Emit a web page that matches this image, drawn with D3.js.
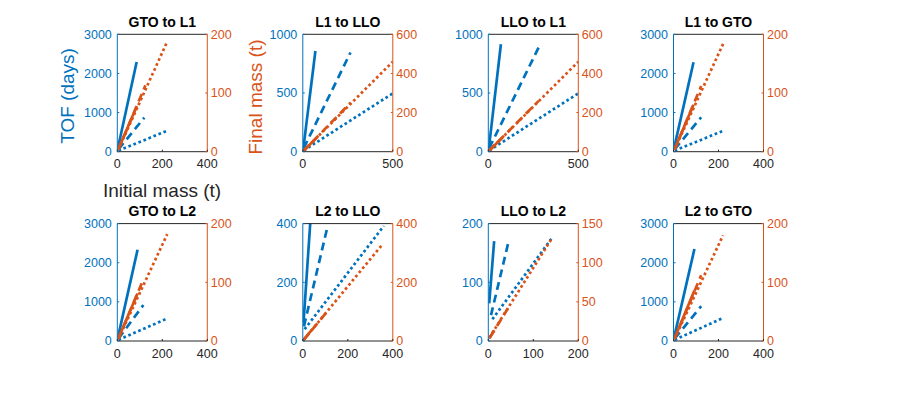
<!DOCTYPE html>
<html>
<head>
<meta charset="utf-8">
<script src="https://cdn.jsdelivr.net/npm/d3@7"></script>
<style>
  body { margin: 0; background: #fff; }
  text { font-family: "Liberation Sans", Arial, sans-serif; }
</style>
</head>
<body>
<div id="chart"></div>
<script>
// panel titles, read row by row
const titles = ["GTO to L1", "L1 to LLO", "LLO to L1", "L1 to GTO",
                "GTO to L2", "L2 to LLO", "LLO to L2", "L2 to GTO"];

const xMax    = [400, 500, 500, 400, 400, 400, 200, 400];
const tofMax  = [3000, 1000, 1000, 3000, 3000, 400, 200, 3000];
const massMax = [200, 600, 600, 200, 200, 400, 150, 200];

const xTicks = [[0, 200, 400], [0, 500], [0, 500], [0, 200, 400],
                [0, 200, 400], [0, 200, 400], [0, 100, 200], [0, 200, 400]];
const tofTicks = [[0, 1000, 2000, 3000], [0, 500, 1000], [0, 500, 1000], [0, 1000, 2000, 3000],
                  [0, 1000, 2000, 3000], [0, 200, 400], [0, 100, 200], [0, 1000, 2000, 3000]];
const massTicks = [[0, 100, 200], [0, 200, 400, 600], [0, 200, 400, 600], [0, 100, 200],
                   [0, 100, 200], [0, 200, 400], [0, 50, 100, 150], [0, 100, 200]];

// TOF (days) vs initial mass (t), [start, end] per panel
const tofSolid = [
  [[3, 100], [86, 2290]], [[2, 15], [70, 858]], [[2, 15], [70, 915]], [[3, 100], [89, 2285]],
  [[3, 100], [90, 2330]], [[3, 60], [40, 480]], [[2, 64], [13, 170]], [[3, 100], [93, 2350]]];
const tofDashed = [
  [[5, 60], [120, 870]], [[5, 30], [265, 845]], [[5, 30], [285, 905]], [[5, 60], [123, 880]],
  [[5, 60], [116, 920]], [[5, 50], [110, 390]], [[6, 44], [44, 166]], [[5, 60], [123, 890]]];
const tofDotted = [
  [[5, 30], [220, 530]], [[5, 10], [500, 497]], [[5, 10], [500, 497]], [[5, 30], [220, 530]],
  [[5, 30], [220, 570]], [[8, 40], [360, 392]], [[9, 37], [140, 174]], [[5, 30], [215, 575]]];

// final mass (t) vs initial mass (t)
const massSolid = [
  [[3, 3], [86, 77]], [[2, 2], [70, 65]], [[2, 2], [70, 65]], [[3, 3], [89, 80]],
  [[3, 3], [90, 81]], [[1, 1], [40, 38]], [[2, 3], [13, 13]], [[3, 3], [93, 86]]];
const massDashed = [
  [[5, 4], [125, 113]], [[5, 5], [265, 250]], [[5, 5], [280, 260]], [[5, 4], [123, 112]],
  [[5, 4], [116, 105]], [[5, 5], [110, 102]], [[4, 5], [44, 42]], [[5, 4], [123, 112]]];
const massDotted = [
  [[5, 4], [220, 186]], [[5, 5], [500, 460]], [[5, 5], [500, 460]], [[5, 4], [222, 185]],
  [[5, 4], [222, 182]], [[5, 5], [355, 330]], [[2, 4], [140, 130]], [[5, 4], [220, 180]]];

const blue = "#0072BD", orange = "#D95319", dark = "#262626";
const width = 900, height = 400;
const axW = 90, axH = 117.4;
const colX = [117.3, 302.8, 488.3, 673.5];
const rowY = [34.3, 223.6];

const svg = d3.select("#chart").append("svg")
    .attr("width", width)
    .attr("height", height);

const dashStyles = { solid: null, dashed: "8,5", dotted: "2.7,2.7" };

titles.forEach(function (title, i) {
    const left = colX[i % 4], top = rowY[Math.floor(i / 4)];
    const x = d3.scaleLinear().domain([0, xMax[i]]).range([0, axW]);
    const yL = d3.scaleLinear().domain([0, tofMax[i]]).range([axH, 0]);
    const yR = d3.scaleLinear().domain([0, massMax[i]]).range([axH, 0]);

    const g = svg.append("g").attr("transform", "translate(" + left + "," + top + ")");

    g.append("clipPath").attr("id", "clip" + i)
        .append("rect").attr("width", axW).attr("height", axH);

    const plot = g.append("g").attr("clip-path", "url(#clip" + i + ")");

    const lineL = d3.line().x(d => x(d[0])).y(d => yL(d[1]));
    const lineR = d3.line().x(d => x(d[0])).y(d => yR(d[1]));

    [[tofSolid, "solid"], [tofDashed, "dashed"], [tofDotted, "dotted"]].forEach(function (s) {
        plot.append("path")
            .attr("d", lineL(s[0][i]))
            .attr("fill", "none")
            .attr("stroke", blue)
            .attr("stroke-width", 2.7)
            .attr("stroke-dasharray", dashStyles[s[1]]);
    });
    [[massSolid, "solid"], [massDashed, "dashed"], [massDotted, "dotted"]].forEach(function (s) {
        plot.append("path")
            .attr("d", lineR(s[0][i]))
            .attr("fill", "none")
            .attr("stroke", orange)
            .attr("stroke-width", 2.7)
            .attr("stroke-dasharray", dashStyles[s[1]]);
    });

    // box
    g.append("line").attr("x1", 0).attr("x2", axW).attr("y1", 0).attr("y2", 0).attr("stroke", dark);
    g.append("line").attr("x1", 0).attr("x2", axW).attr("y1", axH).attr("y2", axH).attr("stroke", dark);
    g.append("line").attr("x1", 0).attr("x2", 0).attr("y1", 0).attr("y2", axH).attr("stroke", blue);
    g.append("line").attr("x1", axW).attr("x2", axW).attr("y1", 0).attr("y2", axH).attr("stroke", orange);

    // x ticks
    xTicks[i].forEach(function (t) {
        g.append("line").attr("x1", x(t)).attr("x2", x(t)).attr("y1", axH).attr("y2", axH - 2).attr("stroke", dark);
        g.append("text").attr("x", x(t)).attr("y", axH + 16.8)
            .attr("text-anchor", "middle").style("font-size", "12.5px").attr("fill", dark).text(t);
    });
    // left ticks
    tofTicks[i].forEach(function (t) {
        g.append("line").attr("x1", 0).attr("x2", 2).attr("y1", yL(t)).attr("y2", yL(t)).attr("stroke", blue);
        g.append("text").attr("x", -5.5).attr("y", yL(t) + 4.5)
            .attr("text-anchor", "end").style("font-size", "12.5px").attr("fill", blue).text(t);
    });
    // right ticks
    massTicks[i].forEach(function (t) {
        g.append("line").attr("x1", axW).attr("x2", axW - 2).attr("y1", yR(t)).attr("y2", yR(t)).attr("stroke", orange);
        g.append("text").attr("x", axW + 3.5).attr("y", yR(t) + 4.5)
            .attr("text-anchor", "start").style("font-size", "12.5px").attr("fill", orange).text(t);
    });

    g.append("text").attr("x", axW / 2).attr("y", -7.5)
        .attr("text-anchor", "middle").style("font-size", "14px").attr("font-weight", "bold")
        .attr("fill", "#000").text(title);
});

// axis labels of the first panel
svg.append("text")
    .attr("transform", "translate(73.5,96) rotate(-90)")
    .attr("text-anchor", "middle").style("font-size", "19px").attr("fill", blue)
    .text("TOF (days)");
svg.append("text")
    .attr("transform", "translate(261.5,97) rotate(-90)")
    .attr("text-anchor", "middle").style("font-size", "19px").attr("fill", orange)
    .text("Final mass (t)");
svg.append("text")
    .attr("x", 162).attr("y", 197)
    .attr("text-anchor", "middle").style("font-size", "19px").attr("fill", dark)
    .text("Initial mass (t)");
</script>
</body>
</html>
